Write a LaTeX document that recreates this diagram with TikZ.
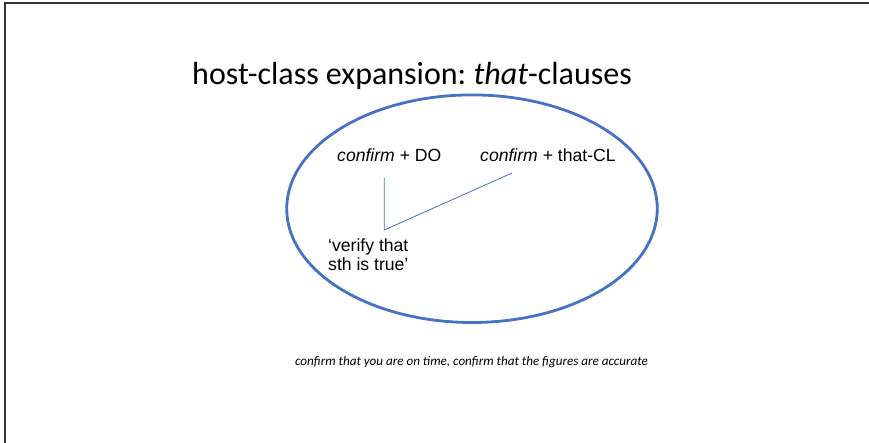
\documentclass[tikz,border=0pt]{standalone}
\usepackage{fontspec}
\setmainfont{Carlito}
\newfontfamily\arialfont{Liberation Sans}
\usepackage{xcolor}
\definecolor{ringblue}{RGB}{68,114,196}
\definecolor{linkblue}{RGB}{70,110,200}
\usetikzlibrary{positioning}
\frenchspacing

\begin{document}
\begin{tikzpicture}[x=1pt, y=-1pt,
    sense/.style={anchor=base west, inner sep=0pt, font=\arialfont\fontsize{17.6}{19.5}\selectfont},
    link/.style={color=linkblue, line width=0.8pt}]

    \useasboundingbox (0,0) rectangle (869,443);

    % slide frame
    \draw[line width=1.5pt, color=black!80] (869,3) -- (5,3) -- (5,443);

    \node[anchor=base west, inner sep=0pt, font=\fontsize{32}{36}\selectfont] (title) at (192,84.3)
        {host-class expansion: \textit{that}-clauses};

    \draw[color=ringblue, line width=2.8pt] (472,208.7) ellipse [x radius=185.3, y radius=113.8];

    \node[sense] (do) at (337,162) {\textit{confirm} + DO};
    \node[sense] (thatcl) at (480,162) {\textit{confirm} + that-CL};
    \node[sense, align=left] (verify) at (328,271) {‘verify that\\sth is true’};

    \coordinate (dotop) at (384.3,178);
    \coordinate (joint) at (384.3,230);
    \coordinate (cltop) at (512,173);
    \draw[link] (dotop) -- (joint) -- (cltop);

    \node[font=\itshape\fontsize{13.1}{15}\selectfont, inner sep=0pt, anchor=base] (examples) at (471.5,365)
        {confirm that you are on time, confirm that the figures are accurate};

\end{tikzpicture}
\end{document}
